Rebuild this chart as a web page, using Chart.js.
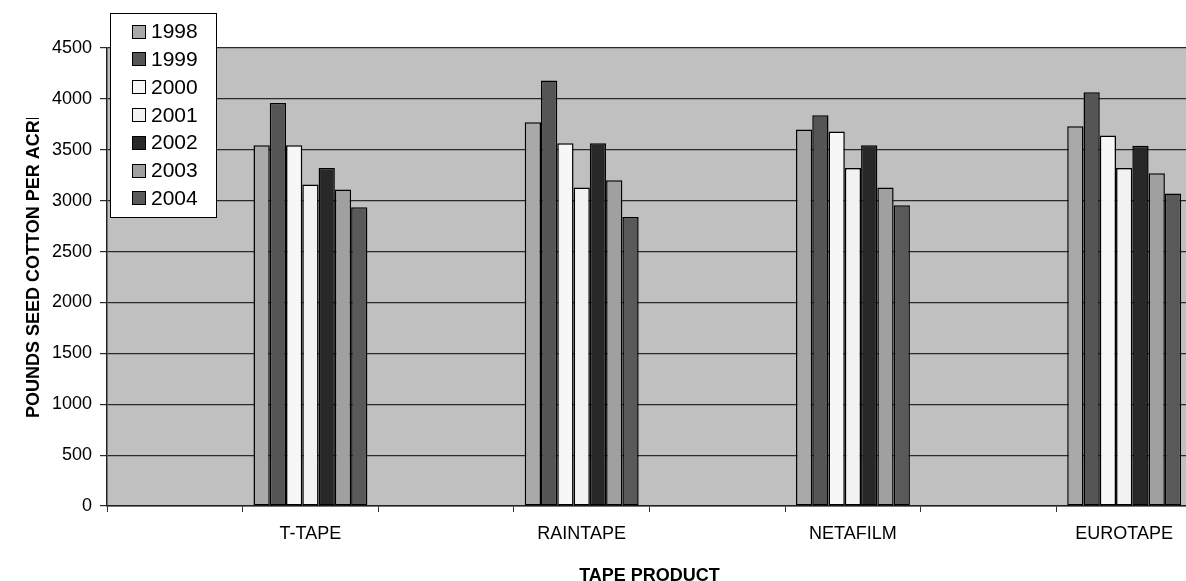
<!DOCTYPE html>
<html>
<head>
<meta charset="utf-8">
<script src="https://cdn.jsdelivr.net/npm/chart.js@4/dist/chart.umd.min.js"></script>
<style>
    html, body { margin: 0; padding: 0; background: #fff; overflow: hidden; }
    #wrap { position: relative; width: 1200px; height: 581px; }
</style>
</head>
<body>
<div id="wrap"><canvas id="yieldChart"></canvas></div>
<script>
// Productos (con columnas vacías entre ellos, como en el original)
const products = ['T-TAPE', 'RAINTAPE', 'NETAFILM', 'EUROTAPE'];
const years = ['1998', '1999', '2000', '2001', '2002', '2003', '2004'];

// Libras de algodón por acre, una lista por año (orden de products)
const y1998 = [3545, 3770, 3700, 3730];
const y1999 = [3960, 4180, 3840, 4065];
const y2000 = [3545, 3565, 3680, 3640];
const y2001 = [3160, 3130, 3320, 3320];
const y2002 = [3320, 3565, 3545, 3540];
const y2003 = [3110, 3200, 3130, 3270];
const y2004 = [2935, 2840, 2955, 3070];

const yTicks = [0, 500, 1000, 1500, 2000, 2500, 3000, 3500, 4000, 4500];

const series = [y1998, y1999, y2000, y2001, y2002, y2003, y2004];
const fills = ['#A9A9A9', '#555555', '#F7F7F7', '#F2F2F2', '#282828', '#A0A0A0', '#595959'];

// Categorías: una vacía antes de cada producto
const labels = [];
products.forEach(p => { labels.push(''); labels.push(p); });
const spread = vals => {
    const out = [];
    vals.forEach(v => { out.push(null); out.push(v); });
    return out;
};

const FONT = "Arial, 'Liberation Sans', sans-serif";

const plotBg = {
    id: 'plotBg',
    beforeDraw(chart) {
        const { ctx, chartArea: a } = chart;
        ctx.save();
        ctx.fillStyle = '#C0C0C0';
        ctx.fillRect(a.left, a.top, a.right - a.left, a.bottom - a.top);
        ctx.restore();
    }
};

const axisTitles = {
    id: 'axisTitles',
    afterDraw(chart) {
        const { ctx, chartArea: a } = chart;
        ctx.save();
        ctx.fillStyle = '#000';
        ctx.font = 'bold 18px ' + FONT;
        // Título eje Y (recortado arriba como en el original)
        ctx.save();
        ctx.beginPath();
        ctx.rect(0, 118, a.left, 581);
        ctx.clip();
        ctx.translate(34, 418);
        ctx.rotate(-Math.PI / 2);
        ctx.textAlign = 'left';
        ctx.textBaseline = 'middle';
        ctx.fillText('POUNDS SEED COTTON PER ACRE', 0, 0);
        ctx.restore();
        // Título eje X
        ctx.textAlign = 'center';
        ctx.textBaseline = 'middle';
        ctx.fillText('TAPE PRODUCT', (a.left + a.right) / 2, 576);
        ctx.restore();
    }
};

const boxLegend = {
    id: 'boxLegend',
    afterDraw(chart) {
        const ctx = chart.ctx;
        ctx.save();
        ctx.fillStyle = '#fff';
        ctx.fillRect(110.5, 13.5, 106, 204);
        ctx.strokeStyle = '#000';
        ctx.lineWidth = 1;
        ctx.strokeRect(110.5, 13.5, 106, 204);
        ctx.font = '21px ' + FONT;
        ctx.textBaseline = 'middle';
        chart.data.datasets.forEach((ds, i) => {
            const cy = 31.5 + i * 27.8;
            ctx.fillStyle = ds.backgroundColor;
            ctx.fillRect(132.5, Math.round(cy - 7) + 0.5, 13, 13);
            ctx.strokeStyle = '#000';
            ctx.strokeRect(132.5, Math.round(cy - 7) + 0.5, 13, 13);
            ctx.fillStyle = '#000';
            ctx.fillText(ds.label, 151, cy + 1);
        });
        ctx.restore();
    }
};

new Chart(document.getElementById('yieldChart'), {
    type: 'bar',
    data: {
        labels: labels,
        datasets: series.map((vals, i) => ({
            label: years[i],
            data: spread(vals),
            backgroundColor: fills[i],
            borderColor: '#000',
            borderWidth: 1.5,
            borderSkipped: false,
            categoryPercentage: 0.84,
            barPercentage: 1.0
        }))
    },
    options: {
        responsive: true,
        maintainAspectRatio: false,
        animation: false,
        layout: { padding: { top: 48, right: 8, left: 0, bottom: 0 } },
        plugins: {
            legend: { display: false },
            tooltip: { enabled: false }
        },
        scales: {
            x: {
                afterFit(scale) { scale.height = 75; },
                grid: {
                    offset: true,
                    drawOnChartArea: false,
                    drawTicks: true,
                    tickLength: 6,
                    color: '#333'
                },
                border: { display: true, color: '#222', width: 1.5 },
                ticks: {
                    autoSkip: false,
                    maxRotation: 0,
                    minRotation: 0,
                    color: '#000',
                    padding: 11,
                    font: { family: FONT, size: 18 }
                }
            },
            y: {
                min: 0,
                max: 4500,
                afterFit(scale) { scale.width = 107; },
                afterBuildTicks(scale) { scale.ticks = yTicks.map(v => ({ value: v })); },
                grid: {
                    color: '#2a2a2a',
                    lineWidth: 1.2,
                    drawTicks: true,
                    tickLength: 7
                },
                border: { display: true, color: '#222', width: 1.5 },
                ticks: {
                    color: '#000',
                    padding: 8,
                    font: { family: FONT, size: 18 },
                    callback: v => String(v)
                }
            }
        }
    },
    plugins: [plotBg, axisTitles, boxLegend]
});
</script>
</body>
</html>
